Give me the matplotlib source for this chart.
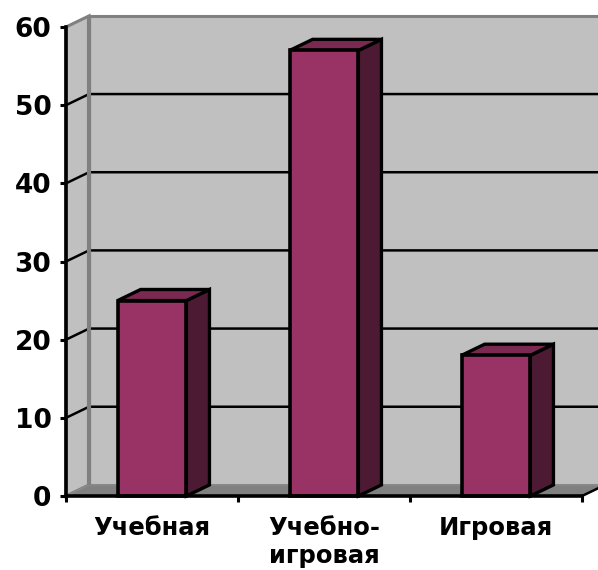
import matplotlib
matplotlib.use("Agg")
import matplotlib.pyplot as plt
from matplotlib.patches import Polygon

categories = ["Учебная", "Учебно-\nигровая", "Игровая"]
values = [25, 57, 18]
yticks = [0, 10, 20, 30, 40, 50, 60]

# depth of the fake 3d box, in data units
depth_x = 0.134
depth_y = 1.42
bar_width = 0.4

plt.rcParams["font.family"] = "DejaVu Sans"
plt.rcParams["font.weight"] = "bold"

fig = plt.figure(figsize=(5.98, 5.70), dpi=100)
ax = fig.add_axes([66 / 598, 1 - 496 / 570, 516 / 598, 469 / 570])
ax.set_xlim(0, 3)
ax.set_ylim(0, 60)
ax.patch.set_visible(False)

# back wall, side wall and floor
ax.add_patch(Polygon([(depth_x, depth_y), (3 + depth_x, depth_y), (3 + depth_x, 60 + depth_y), (depth_x, 60 + depth_y)],
                     facecolor="#c0c0c0", edgecolor="#808080", lw=2.2, clip_on=False, zorder=1))
ax.add_patch(Polygon([(0, 0), (depth_x, depth_y), (depth_x, 60 + depth_y), (0, 60)],
                     facecolor="#c0c0c0", edgecolor="#808080", lw=2.2, clip_on=False, zorder=1.1))
ax.add_patch(Polygon([(0, 0), (3, 0), (3 + depth_x, depth_y), (depth_x, depth_y)],
                     facecolor="#808080", edgecolor="#8c8c8c", lw=1, clip_on=False, zorder=1.2))

# gridlines run up the side wall then along the back
for v in yticks[1:-1]:
    ax.plot([0, depth_x, 3 + depth_x], [v, v + depth_y, v + depth_y], color="black", lw=1.8,
            clip_on=False, zorder=2, solid_joinstyle="miter")
ax.plot([3, 3 + depth_x], [0, depth_y], color="black", lw=1.8, clip_on=False, zorder=2)
# wall corner sits over the gridlines
ax.plot([depth_x, depth_x], [depth_y, 60 + depth_y], color="#808080", lw=3, clip_on=False, zorder=2.5,
        solid_capstyle="butt")

# bars
for i, v in enumerate(values):
    left = i + 0.5 - bar_width / 2
    right = left + bar_width
    ax.add_patch(Polygon([(right, 0), (right + depth_x, depth_y), (right + depth_x, v + depth_y), (right, v)],
                         facecolor="#4d1a33", edgecolor="black", lw=2.4, joinstyle="miter", clip_on=False, zorder=3))
    ax.add_patch(Polygon([(left, v), (right, v), (right + depth_x, v + depth_y), (left + depth_x, v + depth_y)],
                         facecolor="#7a2951", edgecolor="black", lw=2.4, joinstyle="miter", clip_on=False, zorder=3))
    ax.add_patch(Polygon([(left, 0), (right, 0), (right, v), (left, v)],
                         facecolor="#993366", edgecolor="black", lw=2.6, joinstyle="miter", clip_on=False, zorder=4))

for side in ["top", "right"]:
    ax.spines[side].set_visible(False)
for side in ["left", "bottom"]:
    ax.spines[side].set_linewidth(2.6)
    ax.spines[side].set_zorder(5)

ax.set_yticks(yticks)
ax.set_yticklabels([str(v) for v in yticks], fontsize=19, fontweight="bold")
ax.set_xticks([0, 1, 2, 3])
ax.set_xticklabels([])
ax.tick_params(axis="both", length=4.5, width=2.2, pad=6)

# category names sit between the ticks
for i, name in enumerate(categories):
    ax.text(i + 0.5, -2.6, name, ha="center", va="top", fontsize=17.5, fontweight="bold", linespacing=1.2, clip_on=False)

fig.savefig("out.png", dpi=100, facecolor="white")
